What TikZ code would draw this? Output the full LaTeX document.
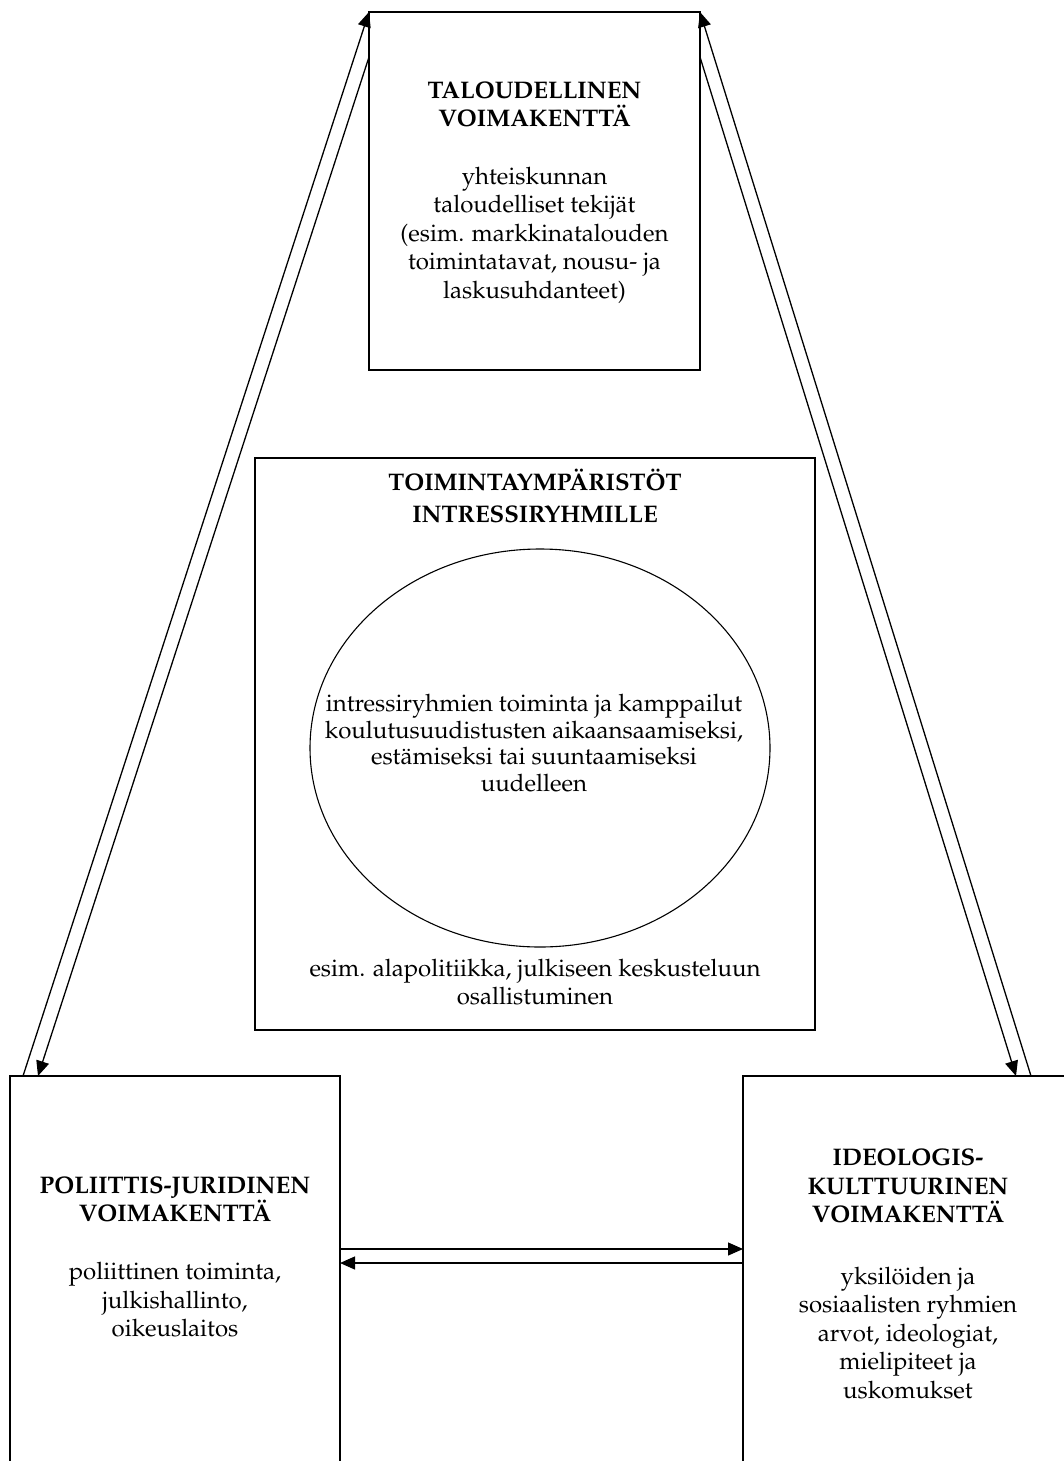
\documentclass[tikz,border=0pt]{standalone}
\usepackage[T1]{fontenc}
\usepackage{mathpazo}
\usetikzlibrary{shapes.geometric,arrows.meta,calc}
\tikzset{
  box/.style={draw, line width=1.3pt, rectangle, inner sep=0pt, outer sep=0pt},
  oval/.style={draw, line width=1.1pt, ellipse, inner sep=0pt, outer sep=0pt},
  txt/.style={align=center, inner sep=0pt, font=\fontsize{24}{28.5}\selectfont},
  ttl/.style={align=center, inner sep=0pt, font=\fontsize{24}{28.5}\selectfont\bfseries},
  conn/.style={line width=1.3pt, -{Triangle[length=15pt,width=13pt]}},
}
\begin{document}
\begin{tikzpicture}[x=1pt,y=-1pt]
\useasboundingbox (0,0) rectangle (1064,1461);
\fill[white] (0,0) rectangle (1064,1461);
\clip (0,0) rectangle (1064,1461);

% boxes
\node[box, minimum width=331pt, minimum height=358pt] (tal) at (534.5,191) {};
\node[box, minimum width=560pt, minimum height=572pt] (tm) at (535,744) {};
\node[oval, minimum width=460pt, minimum height=398pt] (el) at (540,748) {};
\node[box, minimum width=330pt, minimum height=524pt] (pj) at (175,1338) {};
\node[box, minimum width=330pt, minimum height=524pt] (ik) at (908,1338) {};

% texts
\node[ttl] (talT) at (534.5,104) {TALOUDELLINEN\\VOIMAKENTT\"A};
\node[txt] (talB) at (534.5,235) {yhteiskunnan\\taloudelliset tekij\"at\\(esim. markkinatalouden\\toimintatavat, nousu- ja\\laskusuhdanteet)};
\node[ttl] (tmT) at (535,496) {TOIMINTAYMP\"ARIST\"OT\\[3.5pt]INTRESSIRYHMILLE};
\node[txt, font=\fontsize{24}{26.5}\selectfont] (elT) at (534,743) {intressiryhmien toiminta ja kamppailut\\koulutusuudistusten aikaansaamiseksi,\\est\"amiseksi tai suuntaamiseksi\\uudelleen};
\node[txt] (tmB) at (535,982) {esim. alapolitiikka, julkiseen keskusteluun\\osallistuminen};
\node[ttl] (pjT) at (175,1199) {POLIITTIS-JURIDINEN\\VOIMAKENTT\"A};
\node[txt] (pjB) at (175,1300) {poliittinen toiminta,\\julkishallinto,\\oikeuslaitos};
\node[ttl] (ikT) at (908,1186) {IDEOLOGIS-\\KULTTUURINEN\\VOIMAKENTT\"A};
\node[txt] (ikB) at (908,1333) {yksil\"oiden ja\\sosiaalisten ryhmien\\arvot, ideologiat,\\mielipiteet ja\\uskomukset};

% connectors
\draw[conn] ($(pj.north west)+(13,0)$) -- (tal.north west);
\draw[conn] ($(tal.north west)+(0,45)$) -- ($(pj.north west)+(28,0)$);
\draw[conn] ($(ik.north west)+(288,0)$) -- (tal.north east);
\draw[conn] ($(tal.north east)+(0,45)$) -- ($(ik.north west)+(273,0)$);
\draw[conn] ($(pj.north east)+(0,173)$) -- ($(ik.north west)+(0,173)$);
\draw[conn] ($(ik.north west)+(0,187)$) -- ($(pj.north east)+(0,187)$);
\end{tikzpicture}
\end{document}
